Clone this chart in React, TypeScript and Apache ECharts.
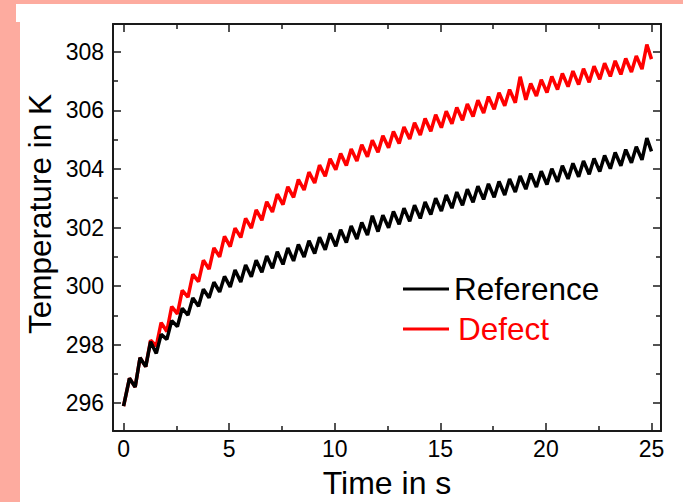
import React, { useEffect, useRef } from "react";
import * as echarts from "echarts";

// Time samples (s) (troughs and peaks of the oscillation)
const timeS = [0, 0.28, 0.55, 0.78, 1.05, 1.28, 1.55, 1.78, 2.05, 2.28, 2.55, 2.78, 3.05, 3.28, 3.55, 3.78, 4.05, 4.28, 4.55, 4.78, 5.05, 5.28, 5.55, 5.78, 6.05, 6.28, 6.55, 6.78, 7.05, 7.28, 7.55, 7.78, 8.05, 8.28, 8.55, 8.78, 9.05, 9.28, 9.55, 9.78, 10.05, 10.28, 10.55, 10.78, 11.05, 11.28, 11.55, 11.78, 12.05, 12.28, 12.55, 12.78, 13.05, 13.28, 13.55, 13.78, 14.05, 14.28, 14.55, 14.78, 15.05, 15.28, 15.55, 15.78, 16.05, 16.28, 16.55, 16.78, 17.05, 17.28, 17.55, 17.78, 18.05, 18.28, 18.55, 18.78, 19.05, 19.28, 19.55, 19.78, 20.05, 20.28, 20.55, 20.78, 21.05, 21.28, 21.55, 21.78, 22.05, 22.28, 22.55, 22.78, 23.05, 23.28, 23.55, 23.78, 24.05, 24.28, 24.55, 24.78, 25.0];

// Temperature (K) of the "Reference" curve
const referenceK = [295.9, 296.85, 296.55, 297.55, 297.25, 298.1, 297.7, 298.35, 298.18, 298.82, 298.62, 299.24, 299.01, 299.59, 299.31, 299.89, 299.6, 300.13, 299.8, 300.33, 299.97, 300.55, 300.14, 300.72, 300.32, 300.88, 300.47, 301.03, 300.61, 301.17, 300.74, 301.3, 300.86, 301.42, 300.99, 301.55, 301.11, 301.67, 301.24, 301.8, 301.36, 301.92, 301.49, 302.05, 301.61, 302.17, 301.74, 302.4, 301.86, 302.42, 301.99, 302.55, 302.11, 302.66, 302.21, 302.76, 302.31, 302.87, 302.44, 303.0, 302.56, 303.11, 302.66, 303.21, 302.76, 303.31, 302.86, 303.41, 302.96, 303.49, 303.03, 303.57, 303.11, 303.66, 303.21, 303.76, 303.31, 303.84, 303.38, 303.92, 303.47, 304.01, 303.56, 304.11, 303.66, 304.19, 303.73, 304.27, 303.82, 304.36, 303.91, 304.46, 304.01, 304.56, 304.11, 304.66, 304.21, 304.76, 304.31, 305.05, 304.6];

// Temperature (K) of the "Defect" curve
const defectK = [295.9, 296.85, 296.55, 297.55, 297.25, 298.15, 297.95, 298.75, 298.45, 299.3, 299.05, 299.85, 299.62, 300.4, 300.15, 300.88, 300.58, 301.3, 301.0, 301.7, 301.35, 301.98, 301.66, 302.31, 301.98, 302.6, 302.25, 302.88, 302.53, 303.14, 302.78, 303.39, 303.03, 303.64, 303.28, 303.89, 303.52, 304.13, 303.75, 304.35, 303.97, 304.53, 304.12, 304.68, 304.27, 304.83, 304.42, 304.98, 304.57, 305.13, 304.72, 305.28, 304.87, 305.43, 305.02, 305.58, 305.16, 305.72, 305.29, 305.85, 305.41, 305.97, 305.54, 306.1, 305.66, 306.22, 305.79, 306.35, 305.91, 306.47, 306.04, 306.6, 306.16, 306.71, 306.26, 307.15, 306.36, 306.92, 306.49, 307.05, 306.61, 307.16, 306.71, 307.26, 306.81, 307.34, 306.88, 307.42, 306.96, 307.51, 307.06, 307.61, 307.16, 307.69, 307.23, 307.77, 307.31, 307.86, 307.41, 308.25, 307.75];

const xMajorTicks = [0, 5, 10, 15, 20, 25];
const xMinorTicks = [2.5, 7.5, 12.5, 17.5, 22.5];
const yMajorTicks = [296, 298, 300, 302, 304, 306, 308];
const yMinorTicks = [297, 299, 301, 303, 305, 307];

const FONT = "'Liberation Sans', Arial, sans-serif";
const AXIS_COLOR = "#1a1a1a";
const PINK = "#fdab9f";

export default function App() {
  const ref = useRef<HTMLDivElement>(null);

  useEffect(() => {
    if (!ref.current) return;
    const chart = echarts.init(ref.current, undefined, { renderer: "svg" });

    const xMin = -0.5;
    const xMax = 25.45;
    const yMin = 295.05;
    const yMax = 308.95;

    const lineStyle = { color: AXIS_COLOR, width: 2 };

    const mkX = (position: string, ticks: number[], len: number, labels: boolean, showLine: boolean) => ({
      type: "value",
      position,
      min: xMin,
      max: xMax,
      axisLine: { show: showLine, onZero: false, lineStyle },
      splitLine: { show: false },
      axisTick: { show: true, inside: true, length: len, customValues: ticks, lineStyle: { color: AXIS_COLOR, width: 1.5 } },
      axisLabel: labels
        ? { show: true, customValues: ticks, fontSize: 23, color: "#000", fontFamily: FONT, margin: 6 }
        : { show: false },
    });

    const mkY = (position: string, ticks: number[], len: number, labels: boolean, showLine: boolean) => ({
      type: "value",
      position,
      min: yMin,
      max: yMax,
      axisLine: { show: showLine, onZero: false, lineStyle },
      splitLine: { show: false },
      axisTick: { show: true, inside: true, length: len, customValues: ticks, lineStyle: { color: AXIS_COLOR, width: 1.5 } },
      axisLabel: labels
        ? { show: true, customValues: ticks, fontSize: 23, color: "#000", fontFamily: FONT, margin: 9 }
        : { show: false },
    });

    const refData = timeS.map((t, i) => [t, referenceK[i]]);
    const defData = timeS.map((t, i) => [t, defectK[i]]);

    chart.setOption({
      animation: false,
      backgroundColor: "#ffffff",
      grid: { left: 113, right: 22, top: 24, bottom: 71, containLabel: false },
      xAxis: [
        mkX("bottom", xMajorTicks, 8, true, true),
        mkX("bottom", xMinorTicks, 5, false, false),
        mkX("top", xMajorTicks, 8, false, true),
        mkX("top", xMinorTicks, 5, false, false),
      ],
      yAxis: [
        mkY("left", yMajorTicks, 8, true, true),
        mkY("left", yMinorTicks, 5, false, false),
        mkY("right", yMajorTicks, 8, false, true),
        mkY("right", yMinorTicks, 5, false, false),
      ],
      legend: {
        orient: "vertical",
        left: 403,
        top: 273,
        padding: 0,
        itemGap: 8,
        itemWidth: 46,
        itemHeight: 3,
        icon: "rect",
        textStyle: { fontSize: 31.5, fontFamily: FONT, lineHeight: 30 },
        data: [
          { name: "Reference", textStyle: { color: "#000000" } },
          { name: "Defect", textStyle: { color: "#ff0000", padding: [0, 0, 0, 4] } },
        ],
      },
      series: [
        {
          name: "Reference",
          type: "line",
          xAxisIndex: 0,
          yAxisIndex: 0,
          data: refData,
          showSymbol: false,
          symbol: "none",
          lineStyle: { color: "#000000", width: 3.5 },
          itemStyle: { color: "#000000" },
          z: 3,
        },
        {
          name: "Defect",
          type: "line",
          xAxisIndex: 0,
          yAxisIndex: 0,
          data: defData,
          showSymbol: false,
          symbol: "none",
          lineStyle: { color: "#ff0000", width: 3.5 },
          itemStyle: { color: "#ff0000" },
          z: 2,
        },
      ],
      graphic: [
        { type: "rect", left: 0, top: 0, shape: { width: 683, height: 4 }, style: { fill: PINK }, silent: true },
        { type: "rect", left: 0, top: 0, shape: { width: 16, height: 502 }, style: { fill: PINK }, silent: true },
        { type: "rect", left: 0, top: 22, shape: { width: 20, height: 480 }, style: { fill: PINK }, silent: true },
        {
          type: "text",
          x: 387,
          y: 483,
          style: { text: "Time in s", font: `32px ${FONT}`, fill: "#000", align: "center", verticalAlign: "middle" },
        },
        {
          type: "text",
          x: 40,
          y: 214,
          rotation: Math.PI / 2,
          style: { text: "Temperature in K", font: `31.5px ${FONT}`, fill: "#000", align: "center", verticalAlign: "middle" },
        },
      ],
    });

    return () => chart.dispose();
  }, []);

  return (
    <div
      ref={ref}
      style={{ position: "fixed", left: 0, top: 0, width: 683, height: 502, background: "#fff" }}
    />
  );
}
